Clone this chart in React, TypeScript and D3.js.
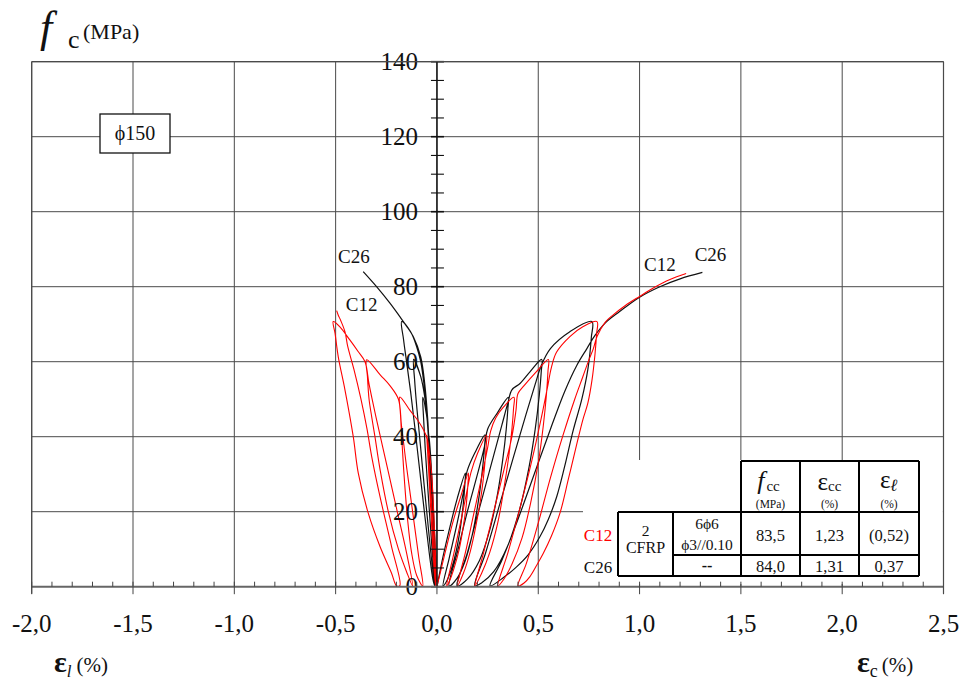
import React from 'react';
import * as d3 from 'd3';

type P = [number, number];

// ---------- axis ticks ----------
const xTicks: number[] = [-2.0, -1.5, -1.0, -0.5, 0.0, 0.5, 1.0, 1.5, 2.0, 2.5];
const xTickLabels: string[] = ['-2,0', '-1,5', '-1,0', '-0,5', '0,0', '0,5', '1,0', '1,5', '2,0', '2,5'];
const yTicks: number[] = [0, 20, 40, 60, 80, 100, 120, 140];
const yTickLabels: string[] = ['0', '20', '40', '60', '80', '100', '120', '140'];

// ---------- series: axial strain (εc, %) vs stress (MPa) ----------
const c12Axial: P[] = [
  [0, 0], [0.04, 9], [0.08, 17.5], [0.12, 24.5], [0.155, 30.3],
  [0.153, 27.5], [0.145, 22], [0.13, 16], [0.11, 10], [0.085, 5], [0.062, 1.5], [0.048, 0.2],
  [0.08, 8], [0.12, 18], [0.15, 26], [0.168, 30.5], [0.2, 35.5], [0.245, 40.4],
  [0.243, 37.5], [0.235, 32], [0.22, 25], [0.195, 17], [0.165, 9.5], [0.13, 3.5], [0.1, 0.2],
  [0.14, 9], [0.18, 19], [0.22, 29], [0.25, 37], [0.265, 41.5], [0.29, 45], [0.33, 48], [0.38, 50.5],
  [0.378, 47.5], [0.37, 42], [0.355, 35], [0.33, 26], [0.3, 17], [0.26, 9], [0.22, 3.5], [0.187, 0.2],
  [0.23, 9], [0.28, 20], [0.33, 31], [0.37, 40], [0.39, 47], [0.4, 51.5], [0.43, 53.6], [0.49, 57.3], [0.55, 60.6],
  [0.548, 57.5], [0.54, 51], [0.525, 43], [0.5, 33], [0.465, 23], [0.42, 13], [0.37, 6], [0.33, 2], [0.3, 0.2],
  [0.35, 9], [0.41, 21], [0.47, 34], [0.515, 45], [0.545, 53], [0.565, 58.5], [0.59, 62.5], [0.656, 66.7], [0.72, 69.3], [0.79, 70.7],
  [0.788, 67.5], [0.78, 62], [0.765, 55], [0.745, 49], [0.72, 44.5], [0.69, 38], [0.65, 29], [0.607, 19.6], [0.565, 13.5],
  [0.525, 8.9], [0.49, 5.5], [0.459, 2.7], [0.43, 1], [0.4, 0.2],
  [0.44, 6], [0.5, 17], [0.56, 29], [0.62, 40], [0.68, 50], [0.72, 56], [0.75, 60.5], [0.772, 63.5], [0.79, 66.7],
  [0.83, 70.5], [0.87, 72.5], [0.93, 75], [1.0, 77.4], [1.07, 79.7], [1.15, 81.9], [1.23, 83.5],
];

const c26Axial: P[] = [
  [0, 0], [0.03, 8], [0.06, 15], [0.1, 23.5], [0.14, 30.3],
  [0.138, 27.5], [0.13, 22], [0.115, 15.5], [0.095, 9.5], [0.07, 4.5], [0.045, 1.2], [0.03, 0.2],
  [0.06, 7.5], [0.1, 17], [0.13, 25], [0.15, 31], [0.19, 36], [0.237, 40.5],
  [0.235, 37.5], [0.225, 31.5], [0.205, 23], [0.175, 14], [0.14, 7], [0.1, 2.3], [0.06, 0.2],
  [0.1, 9], [0.15, 20], [0.2, 30], [0.235, 37.5], [0.25, 42], [0.3, 46.5], [0.352, 50.5],
  [0.35, 47.5], [0.342, 42], [0.325, 34], [0.3, 25], [0.26, 15], [0.21, 7], [0.15, 2], [0.1, 0.2],
  [0.15, 9], [0.21, 21], [0.27, 33], [0.32, 43], [0.35, 49], [0.37, 52.5], [0.41, 54.2], [0.459, 57.3], [0.517, 60.6],
  [0.515, 57.5], [0.505, 51], [0.485, 42], [0.455, 32], [0.41, 21], [0.35, 11], [0.28, 4], [0.22, 1], [0.187, 0.2],
  [0.24, 9], [0.31, 22], [0.38, 35], [0.44, 46], [0.485, 54], [0.515, 59], [0.56, 63.5], [0.656, 68], [0.765, 70.7],
  [0.762, 66.5], [0.745, 58], [0.715, 50], [0.673, 41.8], [0.63, 32], [0.591, 24], [0.55, 18], [0.508, 13.3],
  [0.45, 8.5], [0.393, 5.3], [0.33, 2.5], [0.262, 0.2],
  [0.32, 7], [0.4, 18], [0.48, 30], [0.56, 42], [0.63, 52], [0.69, 59], [0.74, 63.5], [0.78, 67], [0.83, 70.3],
  [0.9, 73.3], [1.0, 77.2], [1.1, 80], [1.2, 82.1], [1.31, 83.8],
];

// ---------- series: lateral strain (εl, %, drawn on the negative side) vs stress ----------
const c12Lateral: P[] = [
  [0, 0], [-0.008, 10], [-0.016, 20], [-0.026, 30], [-0.038, 36], [-0.05, 40.4],
  [-0.046, 36], [-0.038, 28], [-0.028, 18], [-0.018, 8], [-0.01, 2], [-0.006, 0.2],
  [-0.014, 10], [-0.026, 22], [-0.04, 33], [-0.052, 40], [-0.09, 44], [-0.133, 47], [-0.183, 50.6],
  [-0.18, 46], [-0.172, 38], [-0.16, 28], [-0.145, 18], [-0.125, 9], [-0.1, 3], [-0.07, 0.2],
  [-0.09, 8], [-0.12, 20], [-0.15, 32], [-0.175, 43], [-0.19, 50], [-0.23, 53.5], [-0.28, 56.5], [-0.347, 60.5],
  [-0.343, 56], [-0.335, 50], [-0.322, 45.3], [-0.306, 40], [-0.28, 31], [-0.24, 20], [-0.19, 10], [-0.15, 4], [-0.12, 0.2],
  [-0.15, 9], [-0.2, 21], [-0.25, 33], [-0.3, 45], [-0.335, 54], [-0.355, 60], [-0.39, 62.8], [-0.43, 65.8], [-0.479, 69.3], [-0.512, 70.7],
  [-0.503, 67.6], [-0.487, 61.3], [-0.454, 52.5], [-0.413, 40], [-0.388, 30.2], [-0.339, 19.6], [-0.281, 10.7], [-0.224, 3.6], [-0.199, 0.2],
  [-0.183, 0.3], [-0.224, 10.7], [-0.281, 24], [-0.322, 34.7], [-0.345, 42], [-0.375, 50], [-0.41, 58], [-0.44, 64],
  [-0.454, 68], [-0.475, 71], [-0.487, 72.4], [-0.495, 73.6],
];

const c26Lateral: P[] = [
  [0, 0], [-0.008, 10], [-0.017, 20], [-0.026, 30], [-0.034, 37], [-0.04, 40.4],
  [-0.036, 33], [-0.028, 23], [-0.018, 12], [-0.008, 3], [-0.003, 0.2],
  [-0.01, 10], [-0.02, 22], [-0.03, 32], [-0.04, 40], [-0.052, 46], [-0.07, 50.5],
  [-0.066, 45], [-0.058, 37], [-0.046, 27], [-0.032, 16], [-0.018, 6], [-0.007, 0.5],
  [-0.014, 10], [-0.024, 22], [-0.036, 35], [-0.048, 45], [-0.06, 50.5], [-0.08, 56], [-0.115, 60.6],
  [-0.11, 55], [-0.098, 47], [-0.082, 38], [-0.063, 27], [-0.043, 16], [-0.025, 6.5], [-0.01, 0.5],
  [-0.016, 10], [-0.026, 23], [-0.038, 36], [-0.05, 46], [-0.064, 54], [-0.08, 60], [-0.1, 64], [-0.13, 68], [-0.174, 70.7],
  [-0.165, 66], [-0.15, 60], [-0.13, 52], [-0.108, 42], [-0.085, 31], [-0.06, 19], [-0.038, 9], [-0.02, 2], [-0.012, 0.3],
  [-0.018, 10], [-0.026, 22], [-0.036, 35], [-0.046, 45], [-0.06, 54], [-0.08, 61.3], [-0.117, 66.7], [-0.15, 69.5],
  [-0.183, 72], [-0.232, 75.6], [-0.298, 80], [-0.364, 84],
];

// ---------- table ----------
const specimens: string[] = ['C12', 'C26'];
const fccValues: string[] = ['83,5', '84,0'];
const eccValues: string[] = ['1,23', '1,31'];
const elValues: string[] = ['(0,52)', '0,37'];
const reinfLine1: string[] = ['6ϕ6', '--'];
const reinfLine2: string[] = ['ϕ3//0.10', ''];
const jacket: string[] = ['2', 'CFRP'];

const RED = '#ff0000';
const INK = '#111';
const GRID = '#4a4a4a';
const FF = 'Liberation Serif';

export default function App() {
  const W = 961, H = 680;
  const x = d3.scaleLinear().domain([-2, 2.5]).range([31.7, 943.5]);
  const y = d3.scaleLinear().domain([0, 140]).range([586.7, 61.7]);
  const line = d3.line<P>().x(d => x(d[0])).y(d => y(d[1])).curve(d3.curveCatmullRom.alpha(0.5));

  const minorX = d3.range(-20, 26).map(i => i / 10);
  const minorY = d3.range(0, 29).map(i => i * 5);
  const x0 = x(0);

  const tX = [618, 673, 741, 800, 859, 919];
  const tTop = 461, tMid = 512, tDiv = 555, tBot = 576;
  const colC = (i: number) => (tX[i] + tX[i + 1]) / 2;

  return (
    <svg width={W} height={H} style={{ position: 'absolute', left: 0, top: 0 }}>
      <rect x={0} y={0} width={W} height={H} fill="#fff" />

      {/* grid */}
      <g stroke={GRID} strokeWidth={1}>
        {xTicks.map(v => (
          <line key={'gx' + v} x1={x(v)} x2={x(v)} y1={y(140)} y2={y(0)} />
        ))}
        {yTicks.filter(v => v > 0).map(v => (
          <line key={'gy' + v} x1={x(-2)} x2={x(2.5)} y1={y(v)} y2={y(v)} />
        ))}
      </g>
      <rect x={583} y={460} width={x(2.5) - 583 - 0.6} height={124} fill="#fff" />

      {/* curves */}
      <g fill="none" strokeLinejoin="round">
        <path d={line(c26Axial) || ''} stroke={INK} strokeWidth={1.2} />
        <path d={line(c26Lateral) || ''} stroke={INK} strokeWidth={1.2} />
        <path d={line(c12Axial) || ''} stroke={RED} strokeWidth={1.1} />
        <path d={line(c12Lateral) || ''} stroke={RED} strokeWidth={1.1} />
      </g>

      {/* y axis at zero strain */}
      <line x1={x0} x2={x0} y1={y(140)} y2={y(0)} stroke={INK} strokeWidth={1.4} />
      {minorY.map(v => (
        <line key={'ty' + v} x1={x0 - 6} x2={x0 + 7} y1={y(v)} y2={y(v)} stroke={INK}
          strokeWidth={v % 20 === 0 ? 1.6 : 1.1} />
      ))}
      {yTicks.map((v, i) => (
        <text key={'ly' + v} x={418} y={y(v) + 8.5} textAnchor="end" fontFamily={FF} fontSize={25} fill={INK}>{yTickLabels[i]}</text>
      ))}

      {/* x axis */}
      <line x1={x(-2)} x2={x(2.5)} y1={y(0)} y2={y(0)} stroke="#666" strokeWidth={2} />
      {minorX.map(v => {
        const major = Math.abs(v * 2 - Math.round(v * 2)) < 1e-6;
        return (
          <line key={'tx' + v} x1={x(v)} x2={x(v)} y1={y(0) - 5} y2={y(0) + (major ? 7.5 : 0)}
            stroke="#444" strokeWidth={1} />
        );
      })}
      {xTicks.map((v, i) => (
        <text key={'lx' + v} x={x(v)} y={632} textAnchor="middle" fontFamily={FF} fontSize={25} fill={INK}>{xTickLabels[i]}</text>
      ))}

      {/* frame */}
      <line x1={x(-2)} x2={x(2.5)} y1={y(140)} y2={y(140)} stroke={GRID} strokeWidth={1.2} />
      <line x1={x(-2)} x2={x(-2)} y1={y(140)} y2={y(0) + 7} stroke={GRID} strokeWidth={1.2} />
      <line x1={x(2.5)} x2={x(2.5)} y1={y(140)} y2={y(0) + 7} stroke={GRID} strokeWidth={1.2} />

      {/* axis titles */}
      <text x={40} y={42} fontFamily={FF} fontSize={44} fontStyle="italic" fill={INK}>f</text>
      <text x={68} y={48} fontFamily={FF} fontSize={26} fill={INK}>c</text>
      <text x={83} y={39} fontFamily={FF} fontSize={22} fill={INK}>(MPa)</text>

      <text x={54} y={672} fontFamily={FF} fill={INK}>
        <tspan fontSize={30} fontWeight="bold">ε</tspan>
        <tspan fontSize={17} fontStyle="italic" dy={5}>l</tspan>
        <tspan fontSize={21} dy={-5} dx={5}>(%)</tspan>
      </text>
      <text x={857} y={672} fontFamily={FF} fill={INK}>
        <tspan fontSize={30} fontWeight="bold">ε</tspan>
        <tspan fontSize={18} dy={5}>c</tspan>
        <tspan fontSize={21} dy={-5} dx={4}>(%)</tspan>
      </text>

      {/* ϕ150 box */}
      <rect x={100} y={114} width={70} height={39} fill="#fff" stroke={INK} strokeWidth={1.3} />
      <text x={135} y={140} textAnchor="middle" fontFamily={FF} fontSize={20} fill={INK}>ϕ150</text>

      {/* curve labels */}
      <text x={x(-0.41)} y={y(86.3)} textAnchor="middle" fontFamily={FF} fontSize={19} fill={INK}>C26</text>
      <text x={x(-0.372)} y={y(73.5)} textAnchor="middle" fontFamily={FF} fontSize={19} fill={INK}>C12</text>
      <text x={x(1.1)} y={y(84.2)} textAnchor="middle" fontFamily={FF} fontSize={19} fill={INK}>C12</text>
      <text x={x(1.35)} y={y(86.9)} textAnchor="middle" fontFamily={FF} fontSize={19} fill={INK}>C26</text>

      {/* table */}
      <g stroke="#000" strokeWidth={2} fill="none">
        <line x1={tX[2]} x2={tX[5]} y1={tTop} y2={tTop} />
        <line x1={tX[0]} x2={tX[5]} y1={tMid} y2={tMid} />
        <line x1={tX[1]} x2={tX[5]} y1={tDiv} y2={tDiv} />
        <line x1={tX[0]} x2={tX[5]} y1={tBot} y2={tBot} />
        {tX.map((vx, i) => (
          <line key={'tv' + i} x1={vx} x2={vx} y1={i >= 2 ? tTop : tMid} y2={tBot} />
        ))}
      </g>
      <g fill={INK} textAnchor="middle">
        <text x={colC(2) - 2} y={489} fontFamily={FF}>
          <tspan fontSize={26} fontStyle="italic">f</tspan>
          <tspan fontSize={15} dy={2} dx={2}>cc</tspan>
        </text>
        <text x={colC(2)} y={508} fontFamily={FF} fontSize={11.5}>(MPa)</text>
        <text x={colC(3)} y={490} fontFamily={FF}>
          <tspan fontSize={25}>ε</tspan>
          <tspan fontSize={15} dy={1}>cc</tspan>
        </text>
        <text x={colC(3)} y={508} fontFamily={FF} fontSize={11.5}>(%)</text>
        <text x={colC(4)} y={488} fontFamily={FF}>
          <tspan fontSize={25}>ε</tspan>
          <tspan fontSize={17} fontStyle="italic" fontWeight="bold" dy={3}>ℓ</tspan>
        </text>
        <text x={colC(4)} y={508} fontFamily={FF} fontSize={11.5}>(%)</text>

        <text x={598} y={541} fontFamily={FF} fontSize={17} fill={RED}>{specimens[0]}</text>
        <text x={598} y={573} fontFamily={FF} fontSize={17}>{specimens[1]}</text>

        <text x={colC(0)} y={535.5} fontFamily={FF} fontSize={15.5}>{jacket[0]}</text>
        <text x={colC(0)} y={553} fontFamily={FF} fontSize={16}>{jacket[1]}</text>

        <text x={colC(1)} y={529} fontFamily={FF} fontSize={15.5}>{reinfLine1[0]}</text>
        <text x={colC(1)} y={550} fontFamily={FF} fontSize={15.5}>{reinfLine2[0]}</text>
        <text x={colC(1)} y={571} fontFamily={FF} fontSize={16} fontWeight="bold">{reinfLine1[1]}</text>

        {[0, 1].map(r => (
          <g key={'row' + r}>
            <text x={colC(2)} y={r === 0 ? 540.5 : 572} fontFamily={FF} fontSize={16.5}>{fccValues[r]}</text>
            <text x={colC(3)} y={r === 0 ? 540.5 : 572} fontFamily={FF} fontSize={16.5}>{eccValues[r]}</text>
            <text x={colC(4)} y={r === 0 ? 540.5 : 572} fontFamily={FF} fontSize={16.5}>{elValues[r]}</text>
          </g>
        ))}
      </g>
    </svg>
  );
}
